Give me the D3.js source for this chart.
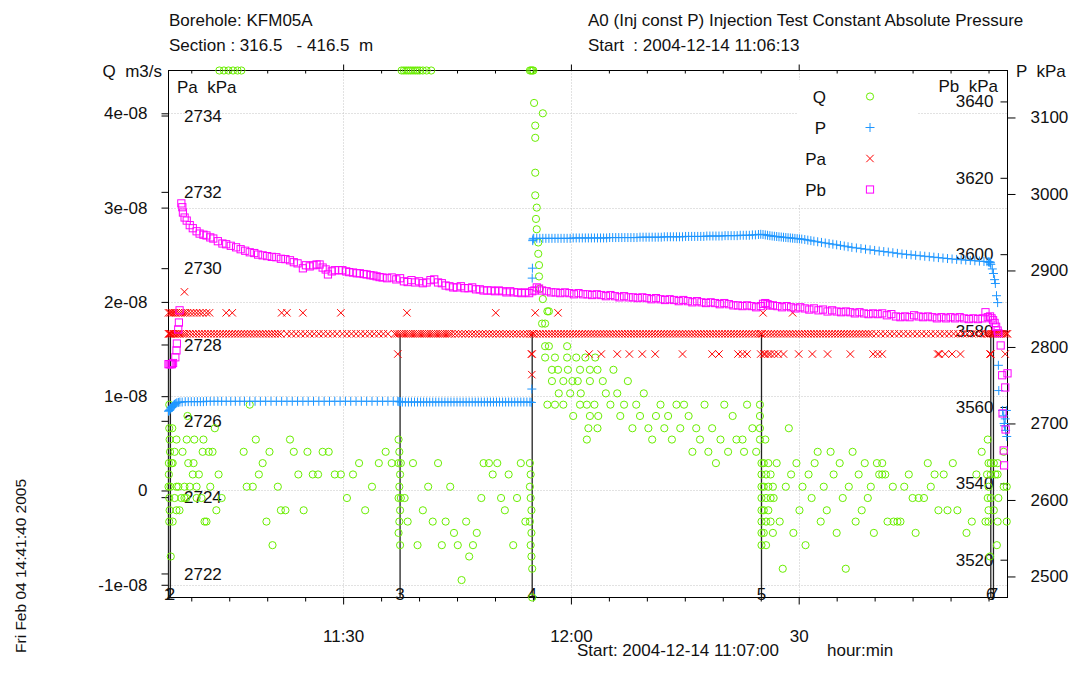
<!DOCTYPE html>
<html>
<head>
<meta charset="utf-8">
<script src="https://cdn.jsdelivr.net/npm/d3@7"></script>
<style>
  body { margin: 0; background: #fff; }
  svg { font-family: "Liberation Sans", Arial, sans-serif; }
  text { white-space: pre; fill: #111; }
</style>
</head>
<body>
<svg id="chart" width="1072" height="693"></svg>
<script>
// ---- data (time in minutes after 11:07:00, 2004-12-14) ----
// Q in 1e-9 m3/s, pressures in kPa
const qTicks = [-10, 0, 10, 20, 30, 40];
const qTickLabels = ['-1e-08', '0', '1e-08', '2e-08', '3e-08', '4e-08'];
const paTicks = [2722, 2724, 2726, 2728, 2730, 2732, 2734];
const pbTicks = [3520, 3540, 3560, 3580, 3600, 3620, 3640];
const pTicks = [2500, 2600, 2700, 2800, 2900, 3000, 3100];
const xMajorTicks = ['11:30', '12:00', '12:30'];
const xMajorLabels = ['11:30', '12:00', '30'];
const xMinorTicks = ['11:10', '11:15', '11:20', '11:25', '11:35', '11:40', '11:45', '11:50', '11:55',
  '12:05', '12:10', '12:15', '12:20', '12:25', '12:35', '12:40', '12:45', '12:50', '12:55'];

const qRange = [-11.35, 44.54];
const paRange = [2721.37, 2735.18];
const pbRange = [3510.1, 3648.1];
const pRange = [2472.5, 3161.4];

const phases = [
  {name: '1', t: 0.0}, {name: '2', t: 0.25}, {name: '3', t: 30.5}, {name: '4', t: 47.9},
  {name: '5', t: 78.1}, {name: '6', t: 108.3}, {name: '7', t: 108.65}
];
const phaseLineTop = 2728.28; // Pa kPa

const qData = [
  [0.0, 0.4], [0.05, 1.7], [0.05, 2.9], [0.1, 9.1], [0.1, 6.6], [0.15, 5.4], [0.2, 4.1],
  [0.1, -0.8], [0.15, -2.1], [0.1, -3.3], [0.3, -7.0], [0.25, 0.4], [0.4, 2.9], [0.5, 6.6],
  [0.55, 2.9], [0.55, -3.3], [0.8, 4.1], [0.8, -0.8], [1.05, 5.4], [1.05, 0.4], [1.05, -2.1],
  [1.3, 0.4], [1.45, -2.1], [1.7, -0.8], [1.85, 4.1], [2.1, -0.8], [2.1, 0.4], [2.35, -0.8],
  [2.4, 5.4], [2.5, 7.9], [2.6, 2.9], [2.8, 0.4], [3.2, 1.7], [3.3, 2.9], [3.4, 5.4],
  [3.7, 0.4], [3.7, -0.8], [4.0, 1.7], [4.35, -0.8], [4.5, 4.1], [4.6, 5.4], [4.75, -3.3],
  [5.0, -3.3], [5.3, 4.1], [5.5, 0.4], [5.8, 4.1], [6.1, 6.6], [6.3, -2.1], [6.6, 1.7], [7.0, -0.8],
  [6.7, 50], [7.3, 50], [7.9, 50], [8.5, 50], [9.1, 50], [9.6, 50],
  [9.9, 4.1], [10.3, 0.4], [10.7, 9.1], [11.1, 0.4], [11.5, 5.4], [11.9, 1.7], [12.4, 2.9],
  [12.9, -3.3], [13.3, 4.1], [13.7, -5.8], [14.4, 0.4], [14.8, -2.1], [15.4, -2.1], [16.0, 5.4],
  [16.5, 4.1], [17.1, 1.7], [17.8, -2.1], [18.3, 4.1], [19.0, 1.7], [19.7, 1.7], [20.3, 4.1],
  [21.1, 4.1], [21.9, 1.7], [22.7, 1.7], [23.5, -0.8], [24.3, 1.7], [25.1, 2.9], [25.9, -2.1],
  [26.8, 0.4], [27.7, 2.9], [28.6, 4.1], [29.4, 2.9],
  [30.3, 5.4], [30.4, 4.1], [30.3, 2.9], [30.5, 1.7], [30.4, 0.4], [30.3, -0.8], [30.5, -2.1],
  [30.4, -3.3], [30.3, -4.5], [30.5, -5.8], [30.6, 2.9], [30.6, -0.8],
  [30.7, 50], [31.0, 50], [31.3, 50], [31.6, 50], [31.9, 50], [32.2, 50], [32.5, 50],
  [32.8, 50], [33.1, 50], [33.5, 50], [34.0, 50], [34.6, 50],
  [31.1, -0.8], [31.5, -3.3], [32.2, 2.9], [32.8, -5.8], [33.5, -2.1], [34.2, 0.4], [34.8, -3.3],
  [35.5, 2.9], [36.0, -5.8], [36.5, -3.3], [37.1, 0.4], [37.6, -4.5], [38.1, -5.8], [38.6, -9.5],
  [39.2, -3.3], [39.6, -7.0], [40.1, -5.8], [40.6, -4.5], [41.2, -0.8], [41.5, 2.9], [42.2, 2.9],
  [42.7, 1.7], [43.3, 2.9], [43.8, -0.8], [44.3, -2.1], [44.8, 1.7], [45.4, -5.8], [45.9, -0.8],
  [46.4, 2.9], [47.0, -3.3],
  [47.6, 2.9], [47.7, 1.7], [47.6, 0.4], [47.7, -0.8], [47.8, -2.1], [47.6, -3.3], [47.8, -4.5],
  [47.7, -5.8], [47.8, -7.0], [47.9, -8.3], [47.9, -15],
  [47.6, 50], [47.75, 50], [47.9, 50], [48.05, 50],
  [48.15, 41.1], [49.3, 40.0], [48.3, 38.7], [48.3, 37.4], [48.3, 33.7], [48.3, 31.3], [48.5, 30.0],
  [48.4, 28.8], [48.5, 27.7], [48.7, 26.3], [48.7, 25.1], [48.8, 23.9], [48.8, 22.7], [48.9, 21.4],
  [49.3, 20.3], [49.9, 19.0], [50.1, 19.0], [49.2, 17.7], [49.6, 17.7],
  [49.6, 15.3], [50.1, 15.3], [52.5, 15.3], [49.6, 14.1], [50.9, 14.1], [52.5, 14.1], [53.7, 14.1],
  [54.9, 14.1], [56.2, 14.1], [50.5, 12.8], [51.3, 12.8], [52.6, 12.8], [54.2, 12.8], [55.5, 12.8],
  [56.5, 12.8], [50.5, 11.6], [52.0, 11.6], [53.2, 11.6], [53.9, 11.6], [55.5, 11.6], [51.4, 10.3],
  [52.9, 10.3], [54.3, 10.3], [49.9, 9.1], [50.9, 9.1], [52.0, 9.1], [54.2, 9.1], [55.1, 9.1],
  [56.1, 9.1], [53.3, 7.9], [55.5, 7.9], [56.6, 7.9], [55.3, 6.6], [56.5, 6.6], [55.1, 5.4],
  [57.2, 11.6], [57.6, 10.3], [58.2, 9.1], [58.6, 12.8], [59.1, 10.3], [59.5, 7.9], [60.0, 9.1],
  [60.5, 11.6], [61.1, 6.6], [61.6, 9.1], [62.1, 7.9], [62.6, 10.3], [63.2, 6.6], [63.7, 5.4],
  [64.2, 7.9], [64.8, 9.1], [65.3, 6.6], [65.8, 7.9], [66.3, 5.4], [66.9, 9.1], [67.4, 6.6],
  [67.9, 9.1], [68.5, 7.9], [69.0, 4.1], [69.5, 6.6], [70.0, 5.4], [70.6, 9.1], [71.1, 4.1],
  [71.6, 6.6], [72.1, 2.9], [72.7, 5.4], [73.2, 9.1], [73.7, 4.1], [74.3, 7.9], [74.8, 5.4],
  [75.6, 5.4], [75.8, 4.1], [76.2, 9.1], [76.9, 6.6], [77.4, 4.1], [77.9, 9.1], [77.9, 7.9],
  [77.9, 6.6], [77.9, 5.4], [78.6, 5.4],
  [78.1, 2.9], [78.1, 1.7], [78.1, 0.4], [78.1, -0.8], [78.1, -2.1], [78.1, -3.3], [78.1, -4.5],
  [78.1, -5.8], [78.4, 2.9], [78.4, 0.4], [78.4, -2.1], [78.4, -4.5], [78.7, 1.7], [78.7, -0.8],
  [78.7, -3.3], [78.7, -5.8], [79.0, 2.9], [79.0, 0.4], [79.0, -2.1], [79.3, 1.7], [79.3, -0.8],
  [79.3, -3.3], [79.6, 0.4], [79.6, -4.5],
  [79.7, -0.8], [80.1, 2.9], [80.5, -3.3], [80.9, -8.3], [81.3, 0.4], [81.7, 6.6], [82.0, 1.7],
  [82.3, -4.5], [82.7, 2.9], [83.1, -2.1], [83.5, 0.4], [83.9, -5.8], [84.3, 1.7], [84.7, -0.8],
  [85.1, 2.9], [85.5, 4.1], [85.9, -3.3], [86.3, 0.4], [86.7, -2.1], [87.2, 4.1], [87.6, 1.7],
  [88.0, -4.5], [88.4, 2.9], [88.8, -0.8], [89.2, -8.3], [89.6, 0.4], [90.1, 4.1], [90.5, -3.3],
  [90.9, 1.7], [91.3, -2.1], [91.7, 2.9], [92.1, -0.8], [92.5, 0.4], [92.9, -4.5], [93.3, 2.9],
  [93.6, 1.7],
  [94.0, 2.9], [94.0, 1.7], [94.4, 1.7], [94.7, -3.3], [95.5, -3.3], [96.0, -3.3], [96.4, -3.3],
  [95.4, 0.4], [96.9, 0.4], [97.5, 1.7], [98.0, -0.8], [98.8, -0.8], [99.5, -0.8], [98.4, -4.5],
  [100.0, 2.9], [100.4, 0.4], [100.9, 1.7], [102.1, 1.7], [101.4, -2.1], [102.6, -2.1], [103.9, -2.1],
  [103.3, 2.9], [105.1, -4.5], [105.8, -3.3], [106.4, 1.7], [107.1, 4.1],
  [107.6, -3.3], [107.8, 1.7], [107.9, 5.4], [107.9, -0.8], [108.0, 2.9], [108.0, 0.4], [108.0, -2.1],
  [108.0, -3.3], [108.2, -7.0], [108.3, 2.9], [108.3, 1.7], [108.3, -0.8], [108.7, 2.9], [108.7, -2.1],
  [108.9, 1.7], [109.1, -5.8], [109.2, 2.9], [109.2, 1.7], [109.2, -3.3], [109.3, -0.8], [110.0, 4.1],
  [110.0, 0.4], [110.4, 0.4], [110.4, -3.3]
];

const pData = [
  [0.0, 2716], [0.1, 2717], [0.2, 2718], [0.3, 2720], [0.4, 2721], [0.5, 2722], [0.6, 2723],
  [0.7, 2724], [0.8, 2725], [0.95, 2726], [1.1, 2727], [1.3, 2727.5], [1.5, 2728], [1.8, 2728],
  [2.2, 2728.5], [2.6, 2728.5], [3.0, 2728.5], [3.4, 2728.5], [3.8, 2728.5], [4.2, 2728.5],
  [4.6, 2728.5], [5.0, 2729], [5.5, 2729], [6.0, 2729], [6.5, 2729], [7.0, 2729], [7.6, 2729],
  [8.2, 2729], [8.8, 2729], [9.4, 2729], [10.0, 2729], [10.7, 2729], [11.4, 2729], [12.1, 2729],
  [12.8, 2729], [13.5, 2729], [14.2, 2729], [14.9, 2729], [15.6, 2729], [16.3, 2729], [17.0, 2729],
  [17.7, 2729], [18.4, 2729], [19.1, 2729], [19.8, 2729], [20.5, 2729], [21.2, 2729], [21.9, 2729],
  [22.6, 2729], [23.3, 2729], [24.0, 2729], [24.7, 2729], [25.4, 2729], [26.1, 2729], [26.8, 2729],
  [27.5, 2729], [28.2, 2729], [28.9, 2729], [29.6, 2729], [30.2, 2729], [30.35, 2728.5],
  [30.45, 2728.5], [30.55, 2728.5],
  [30.8, 2728], [31.2, 2728], [31.6, 2728], [32.0, 2728], [32.4, 2728], [32.8, 2728], [33.2, 2728],
  [33.6, 2728], [34.0, 2728], [34.4, 2728], [34.8, 2728], [35.2, 2728], [35.6, 2728], [36.0, 2728],
  [36.4, 2728], [36.8, 2728], [37.2, 2728], [37.6, 2728], [38.0, 2728], [38.4, 2728], [38.8, 2728],
  [39.2, 2728], [39.6, 2728], [40.0, 2728], [40.4, 2728], [40.8, 2728], [41.2, 2728], [41.6, 2728],
  [42.0, 2728], [42.4, 2728], [42.8, 2728], [43.2, 2728], [43.6, 2728], [44.0, 2728], [44.4, 2728],
  [44.8, 2728], [45.2, 2728], [45.6, 2728], [46.0, 2728], [46.4, 2728], [46.8, 2728], [47.2, 2728],
  [47.6, 2728],
  [47.8, 2727.5], [47.85, 2745], [47.9, 2890], [47.93, 2903], [47.97, 2939], [48.0, 2941],
  [48.1, 2942], [48.5, 2942], [48.9, 2942], [49.3, 2942], [49.7, 2942], [50.1, 2942], [50.5, 2942],
  [50.9, 2942], [51.3, 2942], [51.7, 2942], [52.1, 2942], [52.5, 2942], [52.9, 2942],
  [53.3, 2942.5], [53.7, 2942.5], [54.1, 2942.5], [54.5, 2942.5], [54.9, 2942.5], [55.3, 2942.5],
  [55.7, 2942.5], [56.1, 2942.5], [56.5, 2942.5], [56.9, 2942.5], [57.3, 2942.5], [57.7, 2942.5],
  [58.1, 2943], [58.5, 2943], [58.9, 2943], [59.3, 2943], [59.7, 2943], [60.1, 2943], [60.5, 2943],
  [60.9, 2943], [61.3, 2943], [61.7, 2943],
  [62.1, 2943.5], [62.5, 2943.5], [62.9, 2943.5], [63.3, 2943.5], [63.7, 2943.5], [64.1, 2943.5],
  [64.5, 2943.5], [64.9, 2943.5],
  [65.3, 2944], [65.7, 2944], [66.1, 2944], [66.5, 2944], [66.9, 2944], [67.3, 2944], [67.7, 2944],
  [68.1, 2944.5], [68.5, 2944.5], [68.9, 2944.5], [69.3, 2944.5], [69.7, 2944.5], [70.1, 2944.5],
  [70.5, 2944.5],
  [70.9, 2945], [71.3, 2945], [71.7, 2945], [72.1, 2945], [72.5, 2945], [72.9, 2945],
  [73.3, 2945.5], [73.7, 2945.5], [74.1, 2945.5], [74.5, 2945.5], [74.9, 2945.5],
  [75.3, 2946], [75.7, 2946], [76.1, 2946], [76.5, 2946], [76.9, 2946.5], [77.3, 2946.5],
  [77.7, 2947], [78.0, 2947.3],
  [78.3, 2947], [78.6, 2946.5], [78.9, 2946], [79.2, 2945.5], [79.5, 2945], [79.8, 2944.7],
  [80.1, 2944.4], [80.4, 2944], [80.7, 2943.7], [81.0, 2943.4], [81.3, 2943.1], [81.6, 2942.8],
  [81.9, 2942.5], [82.2, 2942.2], [82.5, 2941.9], [82.8, 2941.6], [83.1, 2941.3], [83.4, 2941],
  [83.8, 2940.4], [84.2, 2939.7], [84.6, 2939], [85.0, 2938.3], [85.5, 2937.5], [86.0, 2936.7],
  [86.5, 2935.9], [87.0, 2935.1], [87.5, 2934.3], [88.0, 2933.5], [88.5, 2932.7], [89.0, 2931.9],
  [89.5, 2931.0], [90.0, 2930.2], [90.6, 2929.4], [91.2, 2928.6], [91.8, 2927.8], [92.4, 2927.0],
  [93.0, 2926.2], [93.6, 2925.4], [94.2, 2924.7], [94.8, 2924.0], [95.4, 2923.2], [96.0, 2922.4],
  [96.6, 2921.6], [97.2, 2921.0], [97.8, 2920.4], [98.4, 2919.8], [99.0, 2919.2], [99.6, 2918.6],
  [100.2, 2918.0], [100.8, 2917.4], [101.4, 2916.8], [102.0, 2916.2], [102.6, 2915.6], [103.2, 2915.0],
  [103.8, 2914.5], [104.4, 2914.0], [105.0, 2913.6], [105.6, 2913.1], [106.2, 2912.7], [106.8, 2912.2],
  [107.4, 2911.8], [107.8, 2911.5], [108.0, 2911.2], [108.1, 2911], [108.2, 2911], [108.25, 2910],
  [108.3, 2908], [108.5, 2902], [108.65, 2896], [108.8, 2888], [108.9, 2883], [109.05, 2867],
  [109.2, 2858], [109.3, 2776], [109.35, 2743], [109.85, 2717], [110.0, 2710], [110.05, 2700],
  [110.1, 2697], [110.2, 2706], [110.25, 2691], [110.35, 2717], [110.4, 2683]
];

const paSteadyKPa = 2728.28;
const paSteadyT = [
  0.0, 0.1, 0.2, 0.3, 0.5, 0.7, 0.9, 1.1, 1.3, 1.5, 1.8, 2.1, 2.4, 2.8, 3.2, 3.6, 4.0, 4.4, 4.8,
  5.2, 5.6, 6.0, 6.4, 6.8, 7.2, 7.6, 8.0, 8.4, 8.8, 9.2, 9.6, 10.0, 10.4, 10.8, 11.2, 11.6, 12.0,
  12.4, 12.8, 13.2, 13.6, 14.0, 14.4, 14.8,
  15.6, 16.2, 16.8, 17.4, 18.0, 18.6, 19.2, 19.8, 20.4, 21.0, 21.6, 22.2,
  22.9, 23.5, 24.1, 24.7, 25.3, 25.9, 26.5, 27.1, 27.7, 28.3, 28.9,
  29.8, 30.1, 30.4, 30.7, 31.0, 31.3, 31.6, 31.9, 32.2, 32.5, 32.8, 33.1, 33.4, 33.7, 34.0, 34.3,
  34.6, 34.9, 35.2, 35.5, 35.8, 36.1, 36.4, 36.7, 37.0, 37.3,
  37.75, 38.2, 38.65, 39.1, 39.55, 40.0, 40.45, 40.9, 41.35, 41.8, 42.25, 42.7, 43.15, 43.6,
  44.05, 44.5, 44.95, 45.4, 45.85, 46.3, 46.75, 47.2, 47.6, 47.9,
  48.1, 48.5, 48.9, 49.3, 49.7, 50.1, 50.5, 50.9, 51.3, 51.7, 52.1, 52.5, 52.9, 53.3, 53.7, 54.1,
  54.5, 54.9, 55.3, 55.7, 56.1, 56.5, 56.9, 57.3, 57.7, 58.1, 58.5, 58.9, 59.3, 59.7, 60.1, 60.5,
  60.9, 61.3, 61.7, 62.1, 62.5, 62.9, 63.3, 63.7, 64.1, 64.5, 64.9, 65.3, 65.7, 66.1, 66.5, 66.9,
  67.3, 67.7, 68.1, 68.5, 68.9, 69.3, 69.7, 70.1, 70.5, 70.9, 71.3, 71.7, 72.1, 72.5, 72.9, 73.3,
  73.7, 74.1, 74.5, 74.9, 75.3, 75.7, 76.1, 76.5, 76.9, 77.3, 77.7, 78.0,
  78.2, 78.6, 79.0, 79.4, 79.8, 80.2, 80.6, 81.0, 81.4, 81.8, 82.2, 82.6, 83.0, 83.4, 83.8, 84.2,
  84.6, 85.0, 85.4, 85.8, 86.2, 86.6, 87.0, 87.4, 87.8, 88.2, 88.6, 89.0, 89.4, 89.8, 90.2, 90.6,
  91.0, 91.4, 91.8, 92.2, 92.6,
  93.2, 93.8, 94.4, 95.0, 95.6, 96.2, 96.8, 97.4, 98.0, 98.6, 99.2, 99.8, 100.4, 101.0, 101.6,
  102.2, 102.8, 103.4, 104.0, 104.6, 105.2, 105.8, 106.4, 107.0, 107.6,
  107.85, 108.1, 108.35, 108.6, 108.85, 109.1, 109.35, 109.6, 109.85, 110.1, 110.35, 110.5
];
const paOther = [
  [0.0, 2728.83], [0.2, 2728.83], [0.4, 2728.83], [0.6, 2728.83], [0.8, 2728.83], [1.0, 2728.83],
  [1.3, 2728.83], [1.6, 2728.83], [1.9, 2728.83], [2.2, 2728.83], [2.5, 2728.83], [2.9, 2728.83],
  [3.3, 2728.83], [3.7, 2728.83], [4.1, 2728.83], [4.5, 2728.83], [5.0, 2728.83], [5.4, 2728.83],
  [7.6, 2728.83], [8.4, 2728.83], [14.9, 2728.83], [15.6, 2728.83], [17.7, 2728.83], [22.7, 2728.83],
  [31.4, 2728.83], [43.1, 2728.83], [48.3, 2728.83], [51.3, 2728.83], [78.3, 2728.83], [82.2, 2728.83],
  [2.1, 2729.38],
  [30.2, 2727.75], [47.8, 2727.75], [47.9, 2727.75], [55.4, 2727.75], [57.0, 2727.75], [59.1, 2727.75],
  [60.7, 2727.75], [62.4, 2727.75], [64.1, 2727.75], [67.7, 2727.75], [71.6, 2727.75], [72.5, 2727.75],
  [75.0, 2727.75], [75.6, 2727.75], [76.2, 2727.75], [78.0, 2727.75], [78.4, 2727.75], [78.6, 2727.75],
  [79.0, 2727.75], [79.3, 2727.75], [79.8, 2727.75], [80.3, 2727.75], [81.0, 2727.75], [83.0, 2727.75],
  [84.8, 2727.75], [86.8, 2727.75], [89.8, 2727.75], [92.8, 2727.75], [93.4, 2727.75], [94.0, 2727.75],
  [101.3, 2727.75], [101.5, 2727.75], [102.3, 2727.75], [103.2, 2727.75], [104.3, 2727.75],
  [108.2, 2727.75], [108.3, 2727.75], [110.2, 2727.75],
  [47.85, 2727.21]
];

const pbData = [
  [0.0, 3571.2], [0.15, 3571.2], [0.3, 3571.2], [0.45, 3571.2], [0.6, 3571.5], [0.9, 3573.0],
  [1.05, 3574.8], [1.1, 3576.6], [1.28, 3580.3], [1.37, 3582.1], [1.46, 3585.3],
  [1.69, 3613.3], [1.82, 3612.3], [1.9, 3610.9], [2.12, 3609.6], [2.4, 3608.8], [2.8, 3607.6],
  [3.2, 3606.8], [3.7, 3606.0], [4.1, 3605.4], [4.6, 3605.1], [5.0, 3604.9], [5.5, 3604.4],
  [5.9, 3604.1], [6.5, 3603.4], [7.1, 3602.8], [7.6, 3602.6], [8.2, 3602.2], [8.9, 3601.8],
  [9.5, 3601.3], [10.1, 3600.9], [10.7, 3600.5], [11.3, 3600.3], [11.8, 3599.9], [12.4, 3599.7],
  [13.0, 3599.5], [13.6, 3599.3], [14.2, 3599.2], [14.8, 3598.8], [15.4, 3598.7], [16.0, 3598.4],
  [16.5, 3597.9], [17.0, 3597.6], [17.7, 3596.3], [18.1, 3597.1], [18.6, 3596.8], [19.1, 3597.1],
  [19.5, 3597.3], [19.9, 3597.3], [20.3, 3596.5], [20.7, 3596.0], [21.0, 3594.7], [21.5, 3595.5],
  [21.9, 3595.8], [22.4, 3595.8], [22.9, 3595.8], [23.4, 3595.5], [23.8, 3595.3], [24.3, 3595.2],
  [24.8, 3595.0], [25.2, 3595.0], [25.7, 3594.8], [26.1, 3594.7], [26.6, 3594.5], [27.0, 3594.4],
  [27.4, 3594.2], [27.8, 3594.0], [28.2, 3593.9], [28.8, 3593.7], [29.4, 3593.9], [30.0, 3593.4],
  [30.5, 3593.7], [31.0, 3592.9], [31.5, 3592.7], [32.0, 3593.2], [32.5, 3592.6], [33.0, 3592.9],
  [33.5, 3592.4], [34.0, 3592.6], [34.5, 3593.2], [35.0, 3593.4], [35.5, 3592.6], [36.0, 3592.4],
  [36.5, 3591.8], [37.0, 3591.6], [37.5, 3591.3], [38.0, 3591.3], [38.5, 3591.6], [39.0, 3591.1],
  [39.5, 3591.1], [40.0, 3591.3], [40.5, 3590.8], [41.0, 3590.8], [41.5, 3590.5], [42.0, 3590.5],
  [42.5, 3590.5], [43.0, 3590.3], [43.5, 3590.5], [44.0, 3590.3], [44.5, 3590.0], [45.0, 3590.3],
  [45.5, 3590.0], [46.0, 3590.0], [46.5, 3589.8], [47.0, 3590.0], [47.5, 3589.8], [47.9, 3590.3],
  [48.2, 3590.5], [48.5, 3591.3], [48.8, 3591.0], [49.2, 3590.5], [49.8, 3590.3], [50.4, 3590.0],
  [51.0, 3590.0], [51.6, 3589.8], [52.2, 3590.0], [52.8, 3589.8], [53.4, 3589.5], [54.0, 3589.8],
  [54.6, 3589.5], [55.2, 3589.5], [55.8, 3589.3], [56.4, 3589.5], [57.0, 3589.3], [57.6, 3589.0],
  [58.2, 3589.3], [58.8, 3589.0], [59.4, 3588.7], [60.0, 3589.0], [60.6, 3588.7], [61.2, 3588.7],
  [61.8, 3588.5], [62.4, 3588.7], [63.0, 3588.5], [63.6, 3588.2], [64.2, 3588.5], [64.8, 3588.2],
  [65.4, 3588.0], [66.0, 3588.2], [66.6, 3588.0], [67.2, 3587.7], [67.8, 3588.0], [68.4, 3587.7],
  [69.0, 3587.4], [69.6, 3587.7], [70.2, 3587.4], [70.8, 3587.2], [71.4, 3587.4], [72.0, 3587.2],
  [72.6, 3586.9], [73.2, 3587.2], [73.8, 3586.9], [74.4, 3586.6], [75.0, 3586.6], [75.6, 3586.4],
  [76.2, 3586.6], [76.8, 3586.4], [77.4, 3586.1], [78.0, 3586.4],
  [78.3, 3587.0], [78.6, 3587.2], [78.9, 3586.9], [79.2, 3586.6], [79.6, 3586.6], [80.2, 3586.4],
  [80.8, 3586.1], [81.4, 3586.4], [82.0, 3586.1], [82.6, 3585.8], [83.2, 3586.1], [83.8, 3585.8],
  [84.4, 3585.5], [85.0, 3585.8], [85.6, 3585.3], [86.2, 3585.5], [86.8, 3585.0], [87.4, 3585.3],
  [88.0, 3585.0], [88.6, 3584.8], [89.2, 3585.0], [89.8, 3584.8], [90.4, 3584.5], [91.0, 3584.8],
  [91.6, 3584.5], [92.2, 3584.3], [92.8, 3584.5], [93.4, 3584.3], [94.0, 3584.5], [94.6, 3584.0],
  [95.2, 3584.3], [95.8, 3583.7], [96.4, 3583.5], [97.0, 3583.7], [97.6, 3583.5], [98.2, 3584.0],
  [98.8, 3583.7], [99.4, 3583.5], [100.0, 3583.7], [100.6, 3583.5], [101.2, 3583.2], [101.8, 3583.5],
  [102.4, 3583.2], [103.0, 3583.5], [103.6, 3583.2], [104.2, 3583.5], [104.8, 3583.2], [105.4, 3583.0],
  [106.0, 3583.2], [106.6, 3583.0], [107.2, 3583.2], [107.6, 3584.8], [107.9, 3583.5], [108.2, 3583.7],
  [108.4, 3583.2], [108.6, 3582.7], [108.8, 3582.0], [109.0, 3581.0], [109.2, 3580.0], [109.3, 3579.3],
  [109.6, 3576.1], [109.8, 3568.3], [110.5, 3568.8], [110.2, 3565.1], [109.85, 3558.3],
  [110.25, 3554.1], [110.0, 3548.6], [110.05, 3544.7]
];

// ---- layout ----
const plot = {left: 168.5, right: 1007.5, top: 70.5, bottom: 597.5};
const colors = {Q: '#6aee00', P: '#1e96ff', Pa: '#ff0000', Pb: '#ff00ff'};

const day = [2004, 11, 14];
const clock = s => {
  const [h, m] = s.split(':').map(Number);
  return new Date(day[0], day[1], day[2], h, m, 0);
};
const t0 = new Date(2004, 11, 14, 11, 7, 0);
const toDate = m => new Date(t0.getTime() + m * 60000);

const x = d3.scaleTime()
    .domain([t0, new Date(2004, 11, 14, 12, 57, 30)])
    .range([plot.left, plot.right]);
const yQ = d3.scaleLinear().domain(qRange).range([plot.bottom, plot.top]).clamp(true);
const yPa = d3.scaleLinear().domain(paRange).range([plot.bottom, plot.top]);
const yPb = d3.scaleLinear().domain(pbRange).range([plot.bottom, plot.top]);
const yP = d3.scaleLinear().domain(pRange).range([plot.bottom, plot.top]);

const svg = d3.select('#chart');
svg.append('rect').attr('width', 1072).attr('height', 693).attr('fill', '#fff');

// grid
const grid = svg.append('g')
    .attr('stroke', '#c4c4c4')
    .attr('stroke-dasharray', '1,2');
grid.selectAll('.gh')
    .data(qTicks)
    .enter()
    .append('line')
    .attr('x1', plot.left).attr('x2', plot.right)
    .attr('y1', d => Math.round(yQ(d)) + 0.5).attr('y2', d => Math.round(yQ(d)) + 0.5);
grid.selectAll('.gv')
    .data(xMajorTicks)
    .enter()
    .append('line')
    .attr('x1', d => Math.round(x(clock(d))) + 0.5).attr('x2', d => Math.round(x(clock(d))) + 0.5)
    .attr('y1', plot.top).attr('y2', plot.bottom);

function styleAxis(g) {
  g.attr('font-size', 17).attr('font-family', null);
  g.select('.domain').remove();
  g.selectAll('line').attr('stroke', '#000');
  g.selectAll('text').attr('fill', '#111');
}

// left axes (Q outside labels, Pa labels inside)
svg.append('g')
    .attr('transform', `translate(${plot.left},0)`)
    .call(d3.axisLeft(yQ).tickValues(qTicks).tickFormat((d, i) => qTickLabels[i]).tickSize(7).tickPadding(14))
    .call(styleAxis);
svg.append('g')
    .attr('transform', `translate(${plot.left},0)`)
    .call(d3.axisLeft(yPa).tickValues(paTicks).tickFormat('').tickSize(7))
    .call(styleAxis);
svg.selectAll('.paLabel')
    .data(paTicks)
    .enter()
    .append('text')
    .attr('x', 184)
    .attr('y', d => yPa(d))
    .attr('dy', '0.36em')
    .attr('font-size', 17)
    .text(d => d);

// right axes
svg.append('g')
    .attr('transform', `translate(${plot.right},0)`)
    .call(d3.axisLeft(yPb).tickValues(pbTicks).tickFormat(d3.format('d')).tickSize(7).tickPadding(7))
    .call(styleAxis);
svg.append('g')
    .attr('transform', `translate(${plot.right},0)`)
    .call(d3.axisRight(yP).tickValues(pTicks).tickFormat(d3.format('d')).tickSize(8).tickPadding(15))
    .call(styleAxis);

// time axes
svg.append('g')
    .attr('transform', `translate(0,${plot.bottom})`)
    .call(d3.axisBottom(x).tickValues(xMajorTicks.map(clock))
        .tickFormat((d, i) => xMajorLabels[i]).tickSize(7).tickPadding(25))
    .call(styleAxis);
svg.append('g')
    .attr('transform', `translate(0,${plot.bottom})`)
    .call(d3.axisBottom(x).tickValues(xMinorTicks.map(clock)).tickFormat('').tickSize(4))
    .call(styleAxis);
svg.append('g')
    .attr('transform', `translate(0,${plot.top})`)
    .call(d3.axisTop(x).tickValues(xMajorTicks.map(clock)).tickFormat('').tickSize(6))
    .call(styleAxis);
svg.append('g')
    .attr('transform', `translate(0,${plot.top})`)
    .call(d3.axisBottom(x).tickValues(xMinorTicks.map(clock)).tickFormat('').tickSize(3))
    .call(styleAxis);

// frame
svg.append('rect')
    .attr('x', plot.left).attr('y', plot.top)
    .attr('width', plot.right - plot.left).attr('height', plot.bottom - plot.top)
    .attr('fill', 'none').attr('stroke', '#000');

// phase markers
svg.selectAll('.phase')
    .data(phases)
    .enter()
    .append('line')
    .attr('x1', d => x(toDate(d.t))).attr('x2', d => x(toDate(d.t)))
    .attr('y1', yPa(phaseLineTop)).attr('y2', plot.bottom)
    .attr('stroke', '#222').attr('stroke-width', 1.3);
svg.selectAll('.phaseLabel')
    .data(phases)
    .enter()
    .append('text')
    .attr('x', d => x(toDate(d.t)))
    .attr('y', 600)
    .attr('text-anchor', 'middle')
    .attr('font-size', 17)
    .text(d => d.name);

// marker shapes
const shapes = {
  circle: g => g.append('circle').attr('r', 3.6),
  plus: g => g.append('path').attr('d', 'M-4.5,0H4.5M0,-4.5V4.5'),
  cross: g => g.append('path').attr('d', 'M-3.7,-3.7L3.7,3.7M-3.7,3.7L3.7,-3.7'),
  square: g => g.append('rect').attr('x', -3.6).attr('y', -3.6).attr('width', 7.2).attr('height', 7.2)
};

function drawSeries(data, yScale, color, shape) {
  const g = svg.append('g')
      .attr('fill', 'none')
      .attr('stroke', color)
      .attr('stroke-width', 1);
  g.selectAll('g')
      .data(data)
      .enter()
      .append('g')
      .attr('transform', d => `translate(${x(toDate(d[0]))},${yScale(d[1])})`)
      .each(function () { shapes[shape](d3.select(this)); });
}

const paData = paSteadyT.map(t => [t, paSteadyKPa]).concat(paOther);

drawSeries(qData, yQ, colors.Q, 'circle');
drawSeries(pData, yP, colors.P, 'plus');
drawSeries(paData, yPa, colors.Pa, 'cross');
drawSeries(pbData, yPb, colors.Pb, 'square');

// legend
const legendItems = [
  {name: 'Q', shape: 'circle', color: colors.Q},
  {name: 'P', shape: 'plus', color: colors.P},
  {name: 'Pa', shape: 'cross', color: colors.Pa},
  {name: 'Pb', shape: 'square', color: colors.Pb}
];
svg.append('rect')
    .attr('x', 798).attr('y', 80).attr('width', 119).attr('height', 124)
    .attr('fill', '#fff');
const legend = svg.selectAll('.legend')
    .data(legendItems)
    .enter()
    .append('g')
    .attr('transform', (d, i) => `translate(0,${96.5 + i * 31})`);
legend.append('text')
    .attr('x', 826)
    .attr('dy', '0.36em')
    .attr('text-anchor', 'end')
    .attr('font-size', 17)
    .text(d => d.name);
legend.append('g')
    .attr('transform', 'translate(870,0)')
    .attr('fill', 'none')
    .attr('stroke', d => d.color)
    .each(function (d) { shapes[d.shape](d3.select(this)); });

// titles
const texts = [
  {s: 'Borehole: KFM05A', x: 169, y: 26, a: 'start'},
  {s: 'Section : 316.5   - 416.5  m', x: 169, y: 51, a: 'start'},
  {s: 'A0 (Inj const P) Injection Test Constant Absolute Pressure', x: 588, y: 26, a: 'start'},
  {s: 'Start  : 2004-12-14 11:06:13', x: 588, y: 51, a: 'start'},
  {s: 'Q  m3/s', x: 162, y: 77, a: 'end'},
  {s: 'Pa  kPa', x: 177, y: 93, a: 'start'},
  {s: 'Pb  kPa', x: 998, y: 92, a: 'end'},
  {s: 'P  kPa', x: 1016, y: 77, a: 'start'},
  {s: 'Start: 2004-12-14 11:07:00', x: 577, y: 656, a: 'start'},
  {s: 'hour:min', x: 827, y: 656, a: 'start'}
];
svg.selectAll('.title')
    .data(texts)
    .enter()
    .append('text')
    .attr('x', d => d.x)
    .attr('y', d => d.y)
    .attr('text-anchor', d => d.a)
    .attr('font-size', 17)
    .text(d => d.s);

svg.append('text')
    .attr('transform', 'translate(26,653) rotate(-90)')
    .attr('font-size', 15.5)
    .text('Fri Feb 04 14:41:40 2005');
</script>
</body>
</html>
